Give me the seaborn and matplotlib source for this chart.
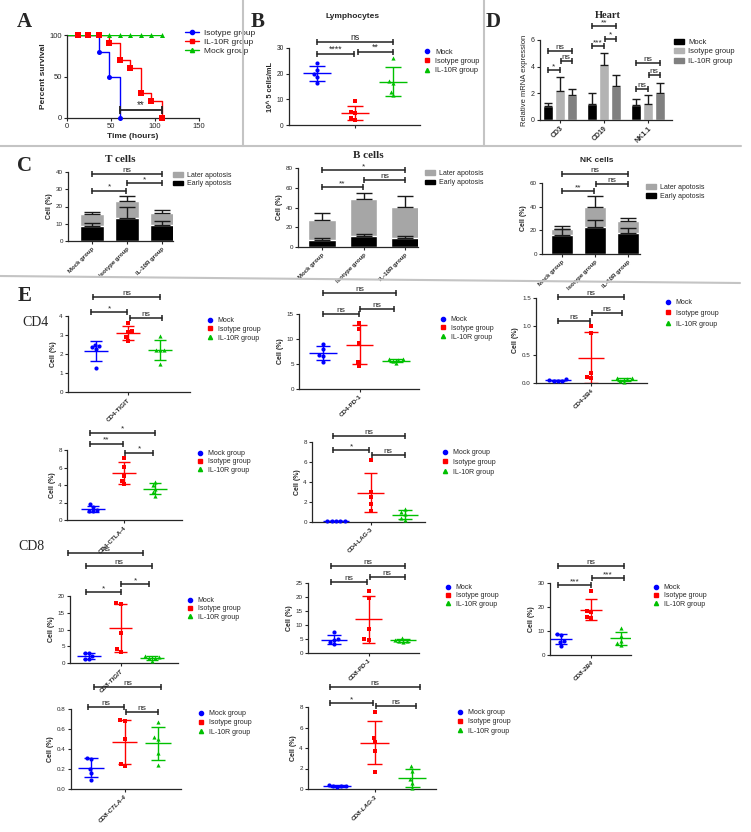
import warnings
import numpy as np
import pandas as pd
import matplotlib
matplotlib.use("Agg")
import matplotlib.pyplot as plt
import seaborn as sns
from matplotlib.lines import Line2D
from matplotlib.patches import Patch

warnings.filterwarnings("ignore")
sns.set_style("ticks")
plt.rcParams["font.family"] = ["Liberation Sans", "DejaVu Sans"]
SERIF = "Liberation Serif"

W, H = 751, 832

groups = ["Mock", "Isotype group", "IL-10R group"]
cgroups = ["Mock group", "Isotype group", "IL-10R group"]
pal = ["#0000ff", "#ff0000", "#00c000"]
marks = ["o", "s", "^"]

# ---- A: survival (Kaplan-Meier steps)
iso_t = [0, 36, 48, 60]
iso_s = [100, 80, 50, 0]
il_t = [0, 48, 60, 72, 84, 96, 108]
il_s = [100, 90, 70, 60, 30, 20, 0]
mock_t = [0, 108]
mock_s = [100, 100]
iso_mt = [12, 24, 36, 48, 60]
iso_ms = [100, 100, 80, 50, 0]
il_mt = [12, 24, 36, 48, 60, 72, 84, 96, 108]
il_ms = [100, 100, 100, 90, 70, 60, 30, 20, 0]
mock_mt = [48, 60, 72, 84, 96, 108]
mock_ms = [100, 100, 100, 100, 100, 100]

# ---- B: lymphocytes (10^5 cells/mL)
lymph = [[24.3, 21.5, 20.0, 18.7, 16.5],
         [9.3, 5.0, 4.5, 2.7, 2.0],
         [26.0, 17.0, 16.3, 13.0, 11.5]]

# ---- C: apoptosis (%), early + later on top
t_early = [8.9, 13.1, 9.5]
t_early_sd = [1.3, 6.4, 2.3]
t_later = [6.6, 10.3, 6.9]
t_later_sd = [1.1, 2.9, 1.6]
b_early = [7.5, 10.9, 9.6]
b_early_sd = [2.1, 2.7, 1.3]
b_later = [19.8, 37.5, 31.3]
b_later_sd = [6.8, 6.1, 10.9]
nk_early = [16.3, 23.2, 17.5]
nk_early_sd = [5.0, 5.7, 4.3]
nk_later = [4.7, 16.4, 10.5]
nk_later_sd = [2.8, 9.0, 2.3]

# ---- D: heart mRNA
genes = ["CD3", "CD19", "NK1.1"]
heart_mock = [1.05, 1.2, 1.1]
heart_iso = [2.2, 4.15, 1.2]
heart_il = [1.85, 2.55, 2.0]
heart_mock_sd = [0.2, 0.85, 0.45]
heart_iso_sd = [1.0, 0.9, 0.65]
heart_il_sd = [0.45, 0.8, 0.8]

# ---- E: markers (%)
cd4_tigit = [[2.5, 2.4, 2.35, 2.25, 1.25], [3.65, 3.2, 3.15, 2.9, 2.7], [2.95, 2.2, 2.2, 2.2, 1.45]]
cd4_pd1 = [[9.0, 8.0, 6.8, 6.5, 5.4], [13.2, 12.0, 9.2, 5.4, 4.6], [6.0, 5.9, 5.8, 5.6, 5.1]]
cd4_2b4 = [[0.07, 0.05, 0.04, 0.04, 0.04], [1.0, 0.88, 0.18, 0.1, 0.09], [0.09, 0.08, 0.07, 0.04, 0.02]]
cd4_ctla4 = [[1.8, 1.5, 1.2, 1.0, 1.0], [7.1, 6.1, 5.0, 4.5, 4.1], [4.4, 4.0, 3.6, 3.2, 2.8]]
cd4_lag3 = [[0.12, 0.1, 0.1, 0.09, 0.08], [6.2, 3.0, 2.5, 1.8, 1.1], [1.3, 1.0, 0.8, 0.4, 0.2]]
cd8_tigit = [[3.1, 2.9, 2.0, 1.3, 1.2], [18.0, 17.6, 9.0, 4.2, 3.3], [2.1, 1.7, 1.5, 1.4, 0.5]]
cd8_pd1 = [[7.5, 5.0, 4.6, 3.8, 3.1], [22.2, 19.8, 8.7, 4.9, 4.6], [5.5, 4.7, 4.4, 4.2, 4.1]]
cd8_2b4 = [[8.8, 8.5, 6.0, 5.5, 3.8], [26.5, 18.5, 18.0, 16.0, 15.5], [11.2, 8.0, 6.0, 5.0, 4.2]]
cd8_ctla4 = [[0.31, 0.30, 0.20, 0.16, 0.09], [0.69, 0.68, 0.50, 0.25, 0.23], [0.67, 0.52, 0.50, 0.36, 0.24]]
cd8_lag3 = [[0.4, 0.3, 0.28, 0.25, 0.22], [7.5, 5.0, 4.6, 3.7, 1.7], [2.2, 1.8, 0.95, 0.6, 0.05]]

fig = plt.figure(figsize=(W / 100, H / 100), dpi=100)


def box(l, r, t, b):
    return fig.add_axes([l / W, 1 - b / H, (r - l) / W, (b - t) / H])


def xlim_from(l, r, p0, p2):
    u = (p2 - p0) / 2
    return (-(p0 - l) / u, 2 + (r - p2) / u)


def style(ax, fs):
    sns.despine(ax=ax)
    ax.tick_params(labelsize=fs, width=0.8, length=2.5, pad=1.2)
    for s in ["left", "bottom"]:
        ax.spines[s].set_linewidth(0.9)
    ax.set_xlabel("")


def bracket(ax, x1, x2, y, txt, fs=6, lw=1.1, ms=4):
    ax.plot([x1, x2], [y, y], color="#222222", lw=lw, marker="|", ms=ms, mew=lw, clip_on=False)
    ax.text((x1 + x2) / 2, y, txt, ha="center", va="bottom", fontsize=fs, clip_on=False)


def put_legend(ax, handles, labels, x, y, dy, fs, hl=1.0):
    fpx = fs * 100 / 72
    ax.legend(handles, labels, loc="upper left",
              bbox_to_anchor=((x - hl * fpx / 2) / W, 1 - (y - 0.58 * fpx) / H),
              bbox_transform=fig.transFigure, frameon=False, fontsize=fs,
              handlelength=hl, handletextpad=0.6, borderpad=0, borderaxespad=0,
              labelspacing=max(dy / fpx - 1.16, 0))


def title_at(x, y, s, serif=False, fs=6):
    fig.text(x / W, 1 - y / H, s, ha="center", va="center", fontsize=fs, fontweight="bold",
             family=SERIF if serif else None)


def dot_panel(px, vals, tick, ymax, yticks, brk, leg, leg_labels, ylabel="Cell (%)", fs=4.5,
              tick_style="normal"):
    l, r, t, b, p0, p2 = px
    ax = box(l, r, t, b)
    df = pd.DataFrame({"group": np.repeat(groups, [len(v) for v in vals]),
                       "value": np.concatenate(vals)})
    for i, g in enumerate(groups):
        sns.swarmplot(data=df[df["group"] == g], x="group", y="value", order=groups,
                      color=pal[i], marker=marks[i], size=3, linewidth=0, ax=ax)
    for c in ax.collections:
        c.set_clip_on(False)
    for i, v in enumerate(vals):
        m, s = np.mean(v), np.std(v, ddof=1)
        ax.hlines(m, i - 0.38, i + 0.38, color=pal[i], lw=1)
        ax.hlines([m - s, m + s], i - 0.2, i + 0.2, color=pal[i], lw=1)
        ax.vlines(i, m - s, m + s, color=pal[i], lw=1)
    ax.set_xlim(*xlim_from(l, r, p0, p2))
    ax.set_ylim(0, ymax)
    ax.set_yticks(yticks)
    style(ax, fs)
    ax.set_xticks([1])
    ax.set_xticklabels([tick], rotation=45, ha="right", rotation_mode="anchor",
                       fontweight="bold", fontstyle=tick_style, fontsize=fs)
    ax.set_ylabel(ylabel, fontsize=fs + 0.5, fontweight="bold", labelpad=2)
    for x1, x2, y, txt in brk:
        bracket(ax, x1, x2, y, txt, fs=fs + 1.5)
    hs = [Line2D([], [], ls="none", marker=marks[i], color=pal[i], ms=3) for i in range(3)]
    put_legend(ax, hs, leg_labels, leg[0], leg[1], leg[2], fs + 0.5)
    return ax


def stack_panel(px, early, early_sd, later, later_sd, ymax, yticks, brk, leg, bw=0.66):
    l, r, t, b, p0, p2 = px
    ax = box(l, r, t, b)
    top = np.add(early, later)
    dfc = pd.DataFrame({"group": cgroups, "early": early, "top": top})
    sns.barplot(data=dfc, x="group", y="top", color="#a6a6a6", width=bw, saturation=1, ax=ax)
    sns.barplot(data=dfc, x="group", y="early", color="black", width=bw, saturation=1, ax=ax)
    ax.errorbar(range(3), top, yerr=[np.zeros(3), later_sd], fmt="none", ecolor="#1a1a1a",
                elinewidth=1, capsize=6, capthick=1)
    ax.errorbar(range(3), early, yerr=[np.zeros(3), early_sd], fmt="none", ecolor="#1a1a1a",
                elinewidth=1, capsize=6, capthick=1)
    ax.set_xlim(*xlim_from(l, r, p0, p2))
    ax.set_ylim(0, ymax)
    ax.set_yticks(yticks)
    style(ax, 4.5)
    ax.set_xticks(range(3))
    ax.set_xticklabels(cgroups, rotation=45, ha="right", rotation_mode="anchor",
                       fontweight="bold", fontsize=4.3)
    ax.set_ylabel("Cell (%)", fontsize=5, fontweight="bold", labelpad=2)
    for x1, x2, y, txt in brk:
        bracket(ax, x1, x2, y, txt, fs=6)
    hs = [Patch(color="#a6a6a6"), Patch(color="black")]
    put_legend(ax, hs, ["Later apotosis", "Early apotosis"], leg[0], leg[1], leg[2], 5, hl=1.3)
    return ax


# ---------------- A
ax = box(67, 199, 35, 118)
for t_, s_, mt, ms_, i, col in [(iso_t, iso_s, iso_mt, iso_ms, 0, pal[0]),
                                (il_t, il_s, il_mt, il_ms, 1, pal[1]),
                                (mock_t, mock_s, mock_mt, mock_ms, 2, pal[2])]:
    sns.lineplot(x=t_, y=s_, drawstyle="steps-post", color=col, lw=1, estimator=None, ax=ax)
    sns.scatterplot(x=mt, y=ms_, marker=marks[i], color=col, s=13, linewidth=0, ax=ax,
                    zorder=3, clip_on=False)
ax.set_xlim(0, 150)
ax.set_ylim(0, 100)
ax.set_xticks([0, 50, 100, 150])
ax.set_yticks([0, 50, 100])
style(ax, 5.5)
ax.set_xlabel("Time (hours)", fontsize=6, fontweight="bold", labelpad=2)
ax.set_ylabel("Percent survival", fontsize=6, fontweight="bold", labelpad=2)
bracket(ax, 60, 108, 10, "**", fs=7, lw=1.3, ms=6)
hs = [Line2D([], [], color=pal[0], marker="o", ms=3, lw=1),
      Line2D([], [], color=pal[1], marker="s", ms=3, lw=1),
      Line2D([], [], color=pal[2], marker="^", ms=3, lw=1)]
put_legend(ax, hs, ["Isotype group", "IL-10R group", "Mock group"], 192, 34, 11, 6, hl=1.6)

# ---------------- B
dot_panel((289, 420, 48, 125, 317, 393), lymph, "", 30, [0, 10, 20, 30],
          [(0, 0.97, 27.7, "****"), (1.07, 2, 28.6, "**"), (0, 2, 32.5, "ns")],
          (427, 53, 10.5), groups, ylabel="10^ 5 cells/mL", fs=4.8)
title_at(353, 16, "Lymphocytes", fs=6)

# ---------------- D
ax = box(540, 672, 40, 120)
dfd = pd.DataFrame({"gene": genes * 3, "group": np.repeat(groups, 3),
                    "value": heart_mock + heart_iso + heart_il})
sns.barplot(data=dfd, x="gene", y="value", hue="group", hue_order=groups,
            palette=["black", "#b3b3b3", "#808080"], width=0.8, gap=0.15, saturation=1,
            legend=False, ax=ax)
for k, (mv, sv) in enumerate([(heart_mock, heart_mock_sd), (heart_iso, heart_iso_sd),
                              (heart_il, heart_il_sd)]):
    xs = np.arange(3) + (k - 1) * 0.8 / 3
    ax.errorbar(xs, mv, yerr=[np.zeros(3), sv], fmt="none", ecolor="#1a1a1a",
                elinewidth=1, capsize=3, capthick=1)
ax.set_xlim(-0.45, 2.55)
ax.set_ylim(0, 6)
ax.set_yticks([0, 2, 4, 6])
style(ax, 5)
ax.set_xticks(range(3))
ax.set_xticklabels(genes, rotation=45, ha="right", rotation_mode="anchor", fontweight="bold", fontsize=5)
ax.set_ylabel("Relative mRNA expression", fontsize=5.5, labelpad=2)
o = 0.8 / 3
for x1, x2, y, txt in [(-o, 0, 3.75, "*"), (0.03, o, 4.4, "ns"), (-o, o, 5.2, "ns"),
                       (1 - o, 1, 5.55, "***"), (1.03, 1 + o, 6.1, "*"), (1 - o, 1 + o, 7.05, "**"),
                       (2 - o, 2, 2.3, "ns"), (2.03, 2 + o, 3.4, "ns"), (2 - o, 2 + o, 4.3, "ns")]:
    bracket(ax, x1, x2, y, txt, fs=6)
title_at(608, 15, "Heart", serif=True, fs=7.5)
hs = [Patch(color=c) for c in ["black", "#b3b3b3", "#808080"]]
put_legend(ax, hs, groups, 679, 43, 11, 5.5, hl=1.2)

# ---------------- C
stack_panel((68, 173, 172, 241, 92, 162), t_early, t_early_sd, t_later, t_later_sd, 40,
            [0, 10, 20, 30, 40],
            [(0, 0.98, 29.2, "*"), (1, 2, 33.4, "*"), (0, 2, 38.7, "ns")],
            (178, 176, 9.5))
title_at(120, 160, "T cells", serif=True, fs=8)
stack_panel((298, 418, 168, 247, 322, 405), b_early, b_early_sd, b_later, b_later_sd, 80,
            [0, 20, 40, 60, 80],
            [(0, 0.98, 60.7, "**"), (1.02, 2, 68.1, "ns"), (0, 2, 77.7, "*")],
            (430, 174, 10.5))
title_at(368, 155, "B cells", serif=True, fs=8)
stack_panel((542, 640, 183, 254, 562, 628), nk_early, nk_early_sd, nk_later, nk_later_sd, 60,
            [0, 20, 40, 60],
            [(0, 0.98, 52.9, "**"), (1.04, 2, 59.4, "ns"), (0, 2, 67.9, "ns")],
            (651, 188, 10))
title_at(597, 160, "NK cells", fs=6)

# ---------------- E
g2 = ["Mock group", "Isotype group", "IL-10R group"]
dot_panel((68, 190, 316, 392, 96, 160), cd4_tigit, "CD4-TIGIT", 4, [0, 1, 2, 3, 4],
          [(-0.15, 0.97, 4.2, "*"), (1.05, 2.05, 3.9, "ns"), (-0.1, 2, 5.0, "ns")],
          (210, 321, 10), groups)
dot_panel((299, 419, 314, 389, 323, 396), cd4_pd1, "CD4-PD-1", 15, [0, 5, 10, 15],
          [(0, 0.98, 15.0, "ns"), (1.02, 1.95, 16.0, "ns"), (0, 2, 19.2, "ns")],
          (443, 320, 10), groups)
ax = dot_panel((536, 647, 298, 383, 558, 624), cd4_2b4, "CD4-2B4", 1.5, [0, 0.5, 1.0, 1.5],
               [(0, 0.98, 1.09, "ns"), (1.02, 1.95, 1.23, "ns"), (0, 2, 1.51, "ns")],
               (668, 303, 12), groups, ylabel="Cell (%)")
ax.set_yticklabels(["0.0", "0.5", "1.0", "1.5"])
dot_panel((67, 182, 450, 520, 93, 155), cd4_ctla4, "CD4-CTLA-4", 8, [0, 2, 4, 6, 8],
          [(-0.1, 0.97, 8.7, "**"), (1.03, 1.95, 7.7, "*"), (-0.1, 2, 10.0, "*")],
          (200, 454, 9.5), g2)
dot_panel((312, 425, 442, 522, 336, 405), cd4_lag3, "CD4-LAG-3", 8, [0, 2, 4, 6, 8],
          [(-0.1, 0.97, 7.2, "*"), (1.03, 2, 6.7, "ns"), (-0.1, 2, 8.6, "ns")],
          (445, 453, 11), g2)
dot_panel((70, 178, 596, 663, 89, 152), cd8_tigit, "CD8-TIGIT", 20, [0, 5, 10, 15, 20],
          [(-0.1, 1, 21.2, "*"), (1.03, 1.9, 23.6, "*"), (-0.1, 2, 29.0, "ns"),
           (-0.67, 1.71, 32.8, "ns")],
          (190, 601, 9.5), groups, tick_style="italic")
dot_panel((308, 419, 583, 653, 334, 403), cd8_pd1, "CD8-PD-1", 25, [0, 5, 10, 15, 20, 25],
          [(-0.1, 0.97, 25.4, "ns"), (1.03, 2.05, 27.1, "ns"), (-0.1, 2.05, 31.0, "ns")],
          (448, 588, 9.5), groups, tick_style="italic")
dot_panel((550, 631, 583, 655, 561, 621), cd8_2b4, "CD8-2B4", 30, [0, 10, 20, 30],
          [(-0.1, 1, 29.2, "***"), (1.03, 2.1, 32.1, "***"), (-0.1, 2.1, 37.0, "ns")],
          (656, 588, 9.5), groups, tick_style="italic")
dot_panel((71, 181, 709, 789, 91, 158), cd8_ctla4, "CD8-CTLA-4", 0.8, [0, 0.2, 0.4, 0.6, 0.8],
          [(-0.1, 0.98, 0.82, "ns"), (1.03, 2, 0.77, "ns"), (0.1, 2.1, 1.02, "ns")],
          (201, 714, 10.5), g2, tick_style="italic")
dot_panel((308, 436, 707, 789, 337, 412), cd8_lag3, "CD8-LAG-3", 8, [0, 2, 4, 6, 8],
          [(-0.2, 0.97, 8.4, "*"), (1.03, 2.1, 8.1, "ns"), (-0.2, 2.2, 9.95, "ns")],
          (460, 713, 10.5), g2, tick_style="italic")

# ---------------- letters, labels, separators
for x, y, s in [(17, 12, "A"), (251, 12, "B"), (486, 12, "D"), (17, 156, "C"), (18, 286, "E")]:
    fig.text(x / W, 1 - y / H, s, fontsize=15, fontweight="bold", family=SERIF, va="top")
fig.text(22 / W, 1 - 322 / H, "CD4", fontsize=10, family=SERIF, va="center")
fig.text(18 / W, 1 - 546 / H, "CD8", fontsize=10, family=SERIF, va="center")
for xs, ys in [([0, 741], [146, 146]), ([243, 243], [0, 146]), ([484, 484], [0, 146]),
               ([0, 740], [276, 283])]:
    fig.add_artist(Line2D(np.array(xs) / W, 1 - np.array(ys) / H, color="#c4c4c4", lw=1.5))

fig.savefig("out.png", dpi=100)
